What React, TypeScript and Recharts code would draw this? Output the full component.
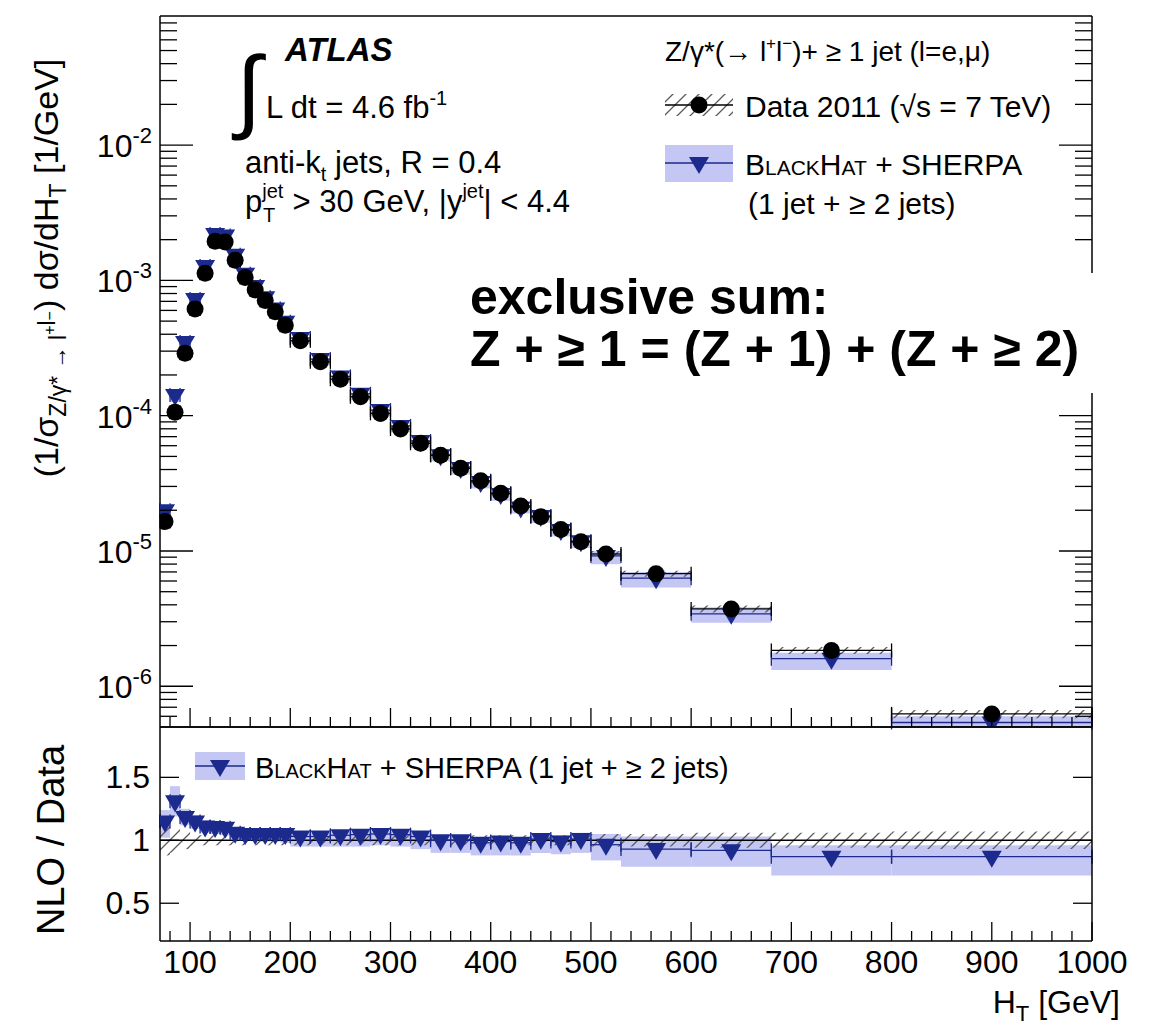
import React from 'react';
import {
  ComposedChart,
  Scatter,
  XAxis,
  YAxis,
  ReferenceArea,
  ReferenceLine,
  ErrorBar,
} from 'recharts';

// H_T bins [GeV]
const binEdges = [
  70, 80, 90, 100, 110, 120, 130, 140, 150, 160, 170, 180, 190, 200,
  220, 240, 260, 280, 300, 320, 340, 360, 380, 400, 420, 440, 460, 480, 500,
  530, 600, 680, 800, 1000,
];

// Data 2011, (1/sigma) dsigma/dHT [1/GeV]
const dataValues = [
  1.65e-5, 1.06e-4, 2.89e-4, 6.14e-4, 1.13e-3, 1.95e-3, 1.92e-3, 1.41e-3, 1.05e-3, 8.5e-4,
  7.1e-4, 5.86e-4, 4.66e-4, 3.58e-4, 2.5e-4, 1.86e-4, 1.38e-4, 1.04e-4, 7.97e-5, 6.25e-5,
  5.1e-5, 4.08e-5, 3.3e-5, 2.67e-5, 2.15e-5, 1.79e-5, 1.44e-5, 1.17e-5, 9.5e-6, 6.8e-6,
  3.73e-6, 1.84e-6, 6.25e-7,
];
// relative data uncertainty (hatched)
const dataRelErr = [
  0.12, 0.1, 0.07, 0.05, 0.04, 0.04, 0.04, 0.04, 0.04, 0.04,
  0.04, 0.04, 0.04, 0.04, 0.04, 0.04, 0.04, 0.04, 0.04, 0.04,
  0.04, 0.04, 0.04, 0.04, 0.04, 0.04, 0.04, 0.04, 0.05, 0.05,
  0.06, 0.06, 0.07,
];

// BlackHat + Sherpa
const mcValues = [
  2.0e-5, 1.42e-4, 3.5e-4, 7.3e-4, 1.28e-3, 2.2e-3, 2.15e-3, 1.55e-3, 1.12e-3, 9.1e-4,
  7.5e-4, 6.2e-4, 4.95e-4, 3.75e-4, 2.62e-4, 1.95e-4, 1.45e-4, 1.1e-4, 8.4e-5, 6.5e-5,
  5.1e-5, 4.1e-5, 3.23e-5, 2.64e-5, 2.1e-5, 1.81e-5, 1.43e-5, 1.18e-5, 9.2e-6, 6.3e-6,
  3.43e-6, 1.6e-6, 5.4e-7,
];
const mcLow = [
  1.68e-5, 1.26e-4, 3.24e-4, 6.69e-4, 1.2e-3, 2.05e-3, 2.0e-3, 1.42e-3, 1.05e-3, 8.5e-4,
  7.03e-4, 5.8e-4, 4.57e-4, 3.4e-4, 2.38e-4, 1.77e-4, 1.31e-4, 9.98e-5, 7.57e-5, 5.81e-5,
  4.59e-5, 3.67e-5, 2.9e-5, 2.35e-5, 1.89e-5, 1.61e-5, 1.28e-5, 1.05e-5, 7.98e-6, 5.37e-6,
  2.95e-6, 1.32e-6, 4.5e-7,
];
const mcHigh = [
  2.05e-5, 1.52e-4, 3.61e-4, 7.37e-4, 1.31e-3, 2.24e-3, 2.19e-3, 1.55e-3, 1.14e-3, 9.2e-4,
  7.67e-4, 6.33e-4, 4.99e-4, 3.79e-4, 2.65e-4, 1.99e-4, 1.48e-4, 1.11e-4, 8.53e-5, 6.63e-5,
  5.3e-5, 4.24e-5, 3.37e-5, 2.75e-5, 2.19e-5, 1.88e-5, 1.5e-5, 1.24e-5, 9.98e-6, 7.0e-6,
  3.84e-6, 1.77e-6, 6.0e-7,
];

// NLO / Data
const ratioValues = [
  1.15, 1.31, 1.185, 1.15, 1.11, 1.105, 1.1, 1.06, 1.05, 1.05,
  1.05, 1.05, 1.05, 1.03, 1.03, 1.04, 1.045, 1.05, 1.045, 1.03,
  1.0, 1.0, 0.98, 0.99, 0.98, 1.01, 0.99, 1.01, 0.965, 0.93,
  0.92, 0.87, 0.87,
];
const ratioLow = [
  1.02, 1.19, 1.12, 1.09, 1.06, 1.05, 1.04, 1.01, 1.0, 1.0,
  0.99, 0.99, 0.98, 0.95, 0.95, 0.95, 0.95, 0.96, 0.95, 0.93,
  0.9, 0.9, 0.88, 0.88, 0.88, 0.9, 0.89, 0.9, 0.84, 0.79,
  0.79, 0.72, 0.72,
];
const ratioHigh = [
  1.24, 1.43, 1.25, 1.2, 1.16, 1.15, 1.14, 1.1, 1.09, 1.08,
  1.08, 1.08, 1.07, 1.06, 1.06, 1.07, 1.07, 1.07, 1.07, 1.06,
  1.04, 1.04, 1.02, 1.03, 1.02, 1.05, 1.04, 1.06, 1.05, 1.03,
  1.03, 0.96, 0.96,
];

// axes
const xMajorTicks = [100, 200, 300, 400, 500, 600, 700, 800, 900, 1000];
const xMajorLabels = ['100', '200', '300', '400', '500', '600', '700', '800', '900', '1000'];
const yMajorTicks = [1e-6, 1e-5, 1e-4, 1e-3, 1e-2];
const yMajorLabels = ['-6', '-5', '-4', '-3', '-2'];
const ratioTicks = [0.5, 1, 1.5];
const ratioLabels = ['0.5', '1', '1.5'];

const X_DOMAIN = [70, 1000];
const Y_DOMAIN = [5e-7, 0.09];
const R_DOMAIN = [0.2, 1.9];

const FONT = '"Liberation Sans", Arial, Helvetica, sans-serif';
const NAVY = '#1b2a8c';
const BAND = '#c4c6f4';
const HATCH = '#5a5a5a';

const xMinorTicks: number[] = [];
for (let v = 80; v < 1000; v += 20) if (v % 100 !== 0) xMinorTicks.push(v);
const xAllTicks = [...xMajorTicks, ...xMinorTicks].sort((a, b) => a - b);

const yMinorTicks: number[] = [];
yMajorTicks.concat([1e-7]).forEach((d) => {
  for (let m = 2; m <= 9; m++) {
    const v = m * d;
    if (v > Y_DOMAIN[0] && v < 0.0899) yMinorTicks.push(v);
  }
});
const yAllTicks = [...yMajorTicks, ...yMinorTicks].sort((a, b) => a - b);

const bins = binEdges.slice(0, -1).map((lo, i) => ({ lo, hi: binEdges[i + 1] }));
const centers = bins.map((b) => (b.lo + b.hi) / 2);
const halfWidths = bins.map((b) => (b.hi - b.lo) / 2);

const dataRows = centers.map((x, i) => ({ x, y: dataValues[i], xe: halfWidths[i] }));
const mcRows = centers.map((x, i) => ({ x, y: mcValues[i], xe: halfWidths[i] }));
const ratioRows = centers.map((x, i) => ({ x, y: ratioValues[i], xe: halfWidths[i] }));

const isMajorLog = (v: number) => Math.abs(Math.log10(v) - Math.round(Math.log10(v))) < 1e-6;

const circleShape = (p: any) => <circle cx={p.cx} cy={p.cy} r={8.5} fill="#000" />;
const triShape = (p: any) => (
  <path d={`M${p.cx - 10},${p.cy - 6}L${p.cx + 10},${p.cy - 6}L${p.cx},${p.cy + 11}Z`} fill={NAVY} />
);

const xTick = (side: 'bottom' | 'top', labels: boolean) => (p: any) => {
  const v = p.payload.value;
  const idx = xMajorTicks.indexOf(v);
  const len = idx >= 0 ? 19 : 10;
  const dir = side === 'bottom' ? -1 : 1;
  return (
    <g>
      <line x1={p.x} x2={p.x} y1={p.y} y2={p.y + dir * len} stroke="#000" strokeWidth={1.3} />
      {labels && idx >= 0 && (
        <text x={p.x} y={p.y + 32} textAnchor="middle" fontFamily={FONT} fontSize={32} fill="#000">
          {xMajorLabels[idx]}
        </text>
      )}
    </g>
  );
};

const logTick = (side: 'left' | 'right') => (p: any) => {
  const v = p.payload.value;
  const major = isMajorLog(v);
  const len = major ? 33 : 17;
  const dir = side === 'left' ? 1 : -1;
  const idx = yMajorTicks.findIndex((t) => Math.abs(t - v) / t < 1e-6);
  return (
    <g>
      <line x1={p.x} x2={p.x + dir * len} y1={p.y} y2={p.y} stroke="#000" strokeWidth={1.3} />
      {side === 'left' && major && idx >= 0 && (
        <text x={p.x - 8} y={p.y + 12} textAnchor="end" fontFamily={FONT} fontSize={32} fill="#000">
          10<tspan dy={-14} fontSize={22}>{yMajorLabels[idx]}</tspan>
        </text>
      )}
    </g>
  );
};

const ratioTick = (side: 'left' | 'right') => (p: any) => {
  const idx = ratioTicks.indexOf(p.payload.value);
  const dir = side === 'left' ? 1 : -1;
  return (
    <g>
      <line x1={p.x} x2={p.x + dir * 19} y1={p.y} y2={p.y} stroke="#000" strokeWidth={1.3} />
      {side === 'left' && idx >= 0 && (
        <text x={p.x - 10} y={p.y + 11} textAnchor="end" fontFamily={FONT} fontSize={32} fill="#000">
          {ratioLabels[idx]}
        </text>
      )}
    </g>
  );
};

const axisLine = { stroke: '#000', strokeWidth: 1.5 };

function TopPanel() {
  return (
    <ComposedChart width={1151} height={745} margin={{ top: 0, right: 0, bottom: 0, left: 0 }}>
      <XAxis
        dataKey="x"
        type="number"
        domain={X_DOMAIN}
        allowDataOverflow
        ticks={xAllTicks}
        interval={0}
        tickSize={0}
        tickMargin={0}
        height={18}
        axisLine={axisLine}
        tickLine={false}
        tick={xTick('bottom', false)}
      />
      <XAxis
        xAxisId="top"
        orientation="top"
        type="number"
        domain={X_DOMAIN}
        allowDataOverflow
        ticks={xAllTicks}
        interval={0}
        tickSize={0}
        tickMargin={0}
        height={16}
        axisLine={axisLine}
        tickLine={false}
        tick={xTick('top', false)}
      />
      <YAxis
        type="number"
        scale="log"
        domain={Y_DOMAIN}
        allowDataOverflow
        ticks={yAllTicks}
        interval={0}
        tickSize={0}
        tickMargin={0}
        width={160}
        axisLine={axisLine}
        tickLine={false}
        tick={logTick('left')}
      />
      <YAxis
        yAxisId="right"
        orientation="right"
        type="number"
        scale="log"
        domain={Y_DOMAIN}
        allowDataOverflow
        ticks={yAllTicks}
        interval={0}
        tickSize={0}
        tickMargin={0}
        width={59}
        axisLine={axisLine}
        tickLine={false}
        tick={logTick('right')}
      />
      {bins.map((b, i) => (
        <ReferenceArea
          key={`mcband-${i}`}
          x1={b.lo}
          x2={b.hi}
          y1={mcLow[i]}
          y2={mcHigh[i]}
          fill={BAND}
          fillOpacity={1}
          stroke="none"
          ifOverflow="hidden"
        />
      ))}
      {bins.map((b, i) => (
        <ReferenceArea
          key={`hatch-${i}`}
          x1={b.lo}
          x2={b.hi}
          y1={dataValues[i] * (1 - dataRelErr[i])}
          y2={dataValues[i] * (1 + dataRelErr[i])}
          fill="url(#hatch)"
          fillOpacity={1}
          stroke="none"
          ifOverflow="hidden"
        />
      ))}
      <Scatter data={mcRows} dataKey="y" shape={triShape} isAnimationActive={false}>
        <ErrorBar dataKey="xe" direction="x" width={7} stroke={NAVY} strokeWidth={1.3} />
      </Scatter>
      <Scatter data={dataRows} dataKey="y" shape={circleShape} isAnimationActive={false}>
        <ErrorBar dataKey="xe" direction="x" width={7} stroke="#000" strokeWidth={1.3} />
      </Scatter>
    </ComposedChart>
  );
}

function RatioPanel() {
  return (
    <ComposedChart width={1151} height={318} margin={{ top: 0, right: 0, bottom: 0, left: 0 }}>
      <XAxis
        dataKey="x"
        type="number"
        domain={X_DOMAIN}
        allowDataOverflow
        ticks={xAllTicks}
        interval={0}
        tickSize={0}
        tickMargin={0}
        height={88}
        axisLine={axisLine}
        tickLine={false}
        tick={xTick('bottom', true)}
      />
      <XAxis
        xAxisId="top"
        orientation="top"
        type="number"
        domain={X_DOMAIN}
        allowDataOverflow
        ticks={xAllTicks}
        interval={0}
        tickSize={0}
        tickMargin={0}
        height={16}
        axisLine={axisLine}
        tickLine={false}
        tick={xTick('top', false)}
      />
      <YAxis
        type="number"
        domain={R_DOMAIN}
        allowDataOverflow
        ticks={ratioTicks}
        interval={0}
        tickSize={0}
        tickMargin={0}
        width={160}
        axisLine={axisLine}
        tickLine={false}
        tick={ratioTick('left')}
      />
      <YAxis
        yAxisId="right"
        orientation="right"
        type="number"
        domain={R_DOMAIN}
        allowDataOverflow
        ticks={ratioTicks}
        interval={0}
        tickSize={0}
        tickMargin={0}
        width={59}
        axisLine={axisLine}
        tickLine={false}
        tick={ratioTick('right')}
      />
      {bins.map((b, i) => (
        <ReferenceArea
          key={`rband-${i}`}
          x1={b.lo}
          x2={b.hi}
          y1={ratioLow[i]}
          y2={ratioHigh[i]}
          fill={BAND}
          fillOpacity={1}
          stroke="none"
          ifOverflow="hidden"
        />
      ))}
      {bins.map((b, i) => (
        <ReferenceArea
          key={`rhatch-${i}`}
          x1={b.lo}
          x2={b.hi}
          y1={1 - dataRelErr[i]}
          y2={1 + dataRelErr[i]}
          fill="url(#hatch)"
          fillOpacity={1}
          stroke="none"
          ifOverflow="hidden"
        />
      ))}
      <ReferenceLine y={1} stroke="#000" strokeWidth={1.5} />
      <Scatter data={ratioRows} dataKey="y" shape={triShape} isAnimationActive={false}>
        <ErrorBar dataKey="xe" direction="x" width={7} stroke={NAVY} strokeWidth={1.3} />
      </Scatter>
    </ComposedChart>
  );
}

function Overlay() {
  const t = { fontFamily: FONT, fill: '#000' } as const;
  return (
    <svg
      width={1151}
      height={1029}
      style={{ position: 'absolute', left: 0, top: 0, pointerEvents: 'none' }}
    >
      {/* y axis titles */}
      <text {...t} fontSize={34} textAnchor="middle" transform="translate(58,268) rotate(-90)">
        (1/σ<tspan dy={8} fontSize={23}>Z/γ* → l</tspan>
        <tspan dy={-11} fontSize={16}>+</tspan>
        <tspan dy={0} fontSize={23}>l</tspan>
        <tspan dy={0} fontSize={16}>−</tspan>
        <tspan dy={3}>) dσ/dH</tspan>
        <tspan dy={8} fontSize={23}>T</tspan>
        <tspan dy={-8}> [1/GeV]</tspan>
      </text>
      <text {...t} fontSize={38} textAnchor="middle" transform="translate(64,840) rotate(-90)">
        NLO / Data
      </text>
      <text {...t} fontSize={32} textAnchor="end" x={1120} y={1013}>
        H<tspan dy={8} fontSize={22}>T</tspan>
        <tspan dy={-8}> [GeV]</tspan>
      </text>

      {/* ATLAS block */}
      <text {...t} x={285} y={61} fontSize={33} fontWeight="bold" fontStyle="italic">
        ATLAS
      </text>
      <text {...t} x={236} y={121} fontSize={92}>
        ∫
      </text>
      <text {...t} x={266} y={118} fontSize={31}>
        L dt = 4.6 fb<tspan dy={-13} fontSize={20}>-1</tspan>
      </text>
      <text {...t} x={245} y={173} fontSize={31}>
        anti-k<tspan dy={8} fontSize={20}>t</tspan>
        <tspan dy={-8}> jets, R = 0.4</tspan>
      </text>
      <text {...t} x={245} y={212} fontSize={31}>
        p<tspan dy={-14} fontSize={20}>jet</tspan>
        <tspan x={263} dy={24} fontSize={20}>T</tspan>
        <tspan x={284} dy={-10}> &gt; 30 GeV, |y</tspan>
        <tspan dy={-14} fontSize={20}>jet</tspan>
        <tspan dy={14}>| &lt; 4.4</tspan>
      </text>

      {/* legend */}
      <text {...t} x={665} y={61} fontSize={28}>
        Z/γ*(→ l<tspan dy={-12} fontSize={17}>+</tspan>
        <tspan dy={12}>l</tspan>
        <tspan dy={-12} fontSize={17}>−</tspan>
        <tspan dy={12}>)+ ≥ 1 jet (l=e,μ)</tspan>
      </text>
      <rect x={665} y={94} width={68} height={22} fill="url(#hatch)" />
      <line x1={665} x2={733} y1={105} y2={105} stroke="#000" strokeWidth={1.5} />
      <circle cx={699} cy={105} r={8.5} fill="#000" />
      <text {...t} x={745} y={117} fontSize={30}>
        Data 2011 (√s = 7 TeV)
      </text>
      <rect x={665} y={145} width={68} height={37} fill={BAND} />
      <line x1={665} x2={733} y1={163} y2={163} stroke={NAVY} strokeWidth={1.5} />
      <path d="M689,157L709,157L699,174Z" fill={NAVY} />
      <text {...t} x={745} y={175} fontSize={30} style={{ fontVariant: 'small-caps' }}>
        BlackHat<tspan style={{ fontVariant: 'normal' }}> + SHERPA</tspan>
      </text>
      <text {...t} x={748} y={214} fontSize={30}>
        (1 jet + ≥ 2 jets)
      </text>

      {/* annotation */}
      <rect x={456} y={273} width={695} height={120} fill="#fff" />
      <text {...t} x={470} y={314} fontSize={50} fontWeight="bold">
        exclusive sum:
      </text>
      <text {...t} x={470} y={366} fontSize={50} fontWeight="bold">
        Z + ≥ 1 = (Z + 1) + (Z + ≥ 2)
      </text>

      {/* ratio legend */}
      <rect x={195} y={752} width={50} height={28} fill={BAND} />
      <line x1={195} x2={245} y1={766} y2={766} stroke={NAVY} strokeWidth={1.5} />
      <path d="M210,760L230,760L220,777Z" fill={NAVY} />
      <text {...t} x={255} y={778} fontSize={29} style={{ fontVariant: 'small-caps' }}>
        BlackHat<tspan style={{ fontVariant: 'normal' }}> + SHERPA (1 jet + ≥ 2 jets)</tspan>
      </text>
    </svg>
  );
}

export default function App() {
  return (
    <div
      style={{
        position: 'absolute',
        left: 0,
        top: 0,
        width: 1151,
        height: 1029,
        background: '#fff',
        overflow: 'hidden',
        fontFamily: FONT,
      }}
    >
      <svg width={0} height={0} style={{ position: 'absolute' }}>
        <defs>
          <pattern id="hatch" patternUnits="userSpaceOnUse" width={13} height={13}>
            <path d="M0,13L13,0M-3,3L3,-3M10,16L16,10" stroke={HATCH} strokeWidth={1.3} />
          </pattern>
        </defs>
      </svg>
      <div style={{ position: 'absolute', left: 0, top: 0 }}>
        <TopPanel />
      </div>
      <div style={{ position: 'absolute', left: 0, top: 711 }}>
        <RatioPanel />
      </div>
      <Overlay />
    </div>
  );
}
